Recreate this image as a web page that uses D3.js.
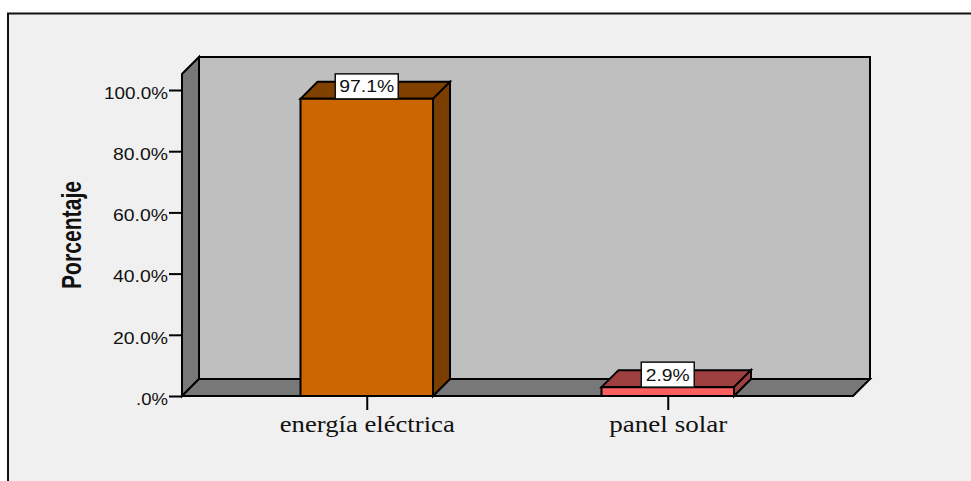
<!DOCTYPE html>
<html><head><meta charset="utf-8">
<style>html,body{margin:0;padding:0;background:#fff}svg{display:block}</style>
<script src="https://cdn.jsdelivr.net/npm/d3@7/dist/d3.min.js"></script>
</head><body><div id="c"></div>
<script>
const categories = ["energía eléctrica", "panel solar"];
const values = [97.1, 2.9];
const valueLabels = ["97.1%", "2.9%"];
const tickValues = [0, 20, 40, 60, 80, 100];
const tickLabels = [".0%", "20.0%", "40.0%", "60.0%", "80.0%", "100.0%"];
const frontColors = ["#cc6600", "#ff5f5f"];
const topColors = ["#7f4000", "#9f4040"];
const sideColors = ["#7a3d00", "#a04040"];

const W = 971, H = 481, depth = 17;
const svg = d3.select("#c").append("svg").attr("width", W).attr("height", H);
const y = d3.scaleLinear().domain([0, 100]).range([396, 90]);
const x = d3.scaleBand().domain(categories).range([300.5, 734]).paddingInner(1 - 132.5 / 301).paddingOuter(0);
const left = 182, right = 853, yTop = 74;

svg.append("rect").attr("x", 8).attr("y", 13.5).attr("width", W).attr("height", H)
  .attr("fill", "#f0f0f0").attr("stroke", "#111").attr("stroke-width", 2);

const S = "#000", SW = 2;
const poly = (pts, fill) => svg.append("polygon").attr("points", pts.map(p => p.join(",")).join(" "))
  .attr("fill", fill).attr("stroke", S).attr("stroke-width", SW).attr("stroke-linejoin", "miter");

// walls
poly([[left + depth, yTop - depth], [right + depth, yTop - depth], [right + depth, 396 - depth], [left + depth, 396 - depth]], "#bfbfbf");
poly([[left, yTop], [left + depth, yTop - depth], [left + depth, 396 - depth], [left, 396]], "#787878");
poly([[left, 396], [left + depth, 396 - depth], [right + depth, 396 - depth], [right, 396]], "#787878");

// bars
categories.forEach((c, i) => {
  const x0 = x(c), x1 = x0 + x.bandwidth(), t = y(values[i]), b = y(0);
  poly([[x0, t], [x0 + depth, t - depth], [x1 + depth, t - depth], [x1, t]], topColors[i]);
  poly([[x1, t], [x1 + depth, t - depth], [x1 + depth, b - depth], [x1, b]], sideColors[i]);
  poly([[x0, t], [x1, t], [x1, b], [x0, b]], frontColors[i]);
});

const stretched = (sel, w) => sel.attr("textLength", w).attr("lengthAdjust", "spacingAndGlyphs");

// value labels
categories.forEach((c, i) => {
  const cx = x(c) + x.bandwidth() / 2, t = y(values[i]);
  const bw = i === 0 ? 63 : 53;
  svg.append("rect").attr("x", cx - bw / 2).attr("y", t - 25).attr("width", bw).attr("height", 25)
    .attr("fill", "#fff").attr("stroke", "#111").attr("stroke-width", 1.5);
  stretched(svg.append("text").attr("x", cx).attr("y", t - 6.5).attr("text-anchor", "middle")
    .attr("font-family", "Liberation Sans").attr("font-size", 16).attr("fill", "#111").text(valueLabels[i]),
    i === 0 ? 55 : 44);
});

// y axis
const yAxis = d3.axisLeft(y).tickValues(tickValues).tickSize(13).tickPadding(1)
  .tickFormat((d, i) => tickLabels[i]);
const gy = svg.append("g").attr("transform", `translate(${left},0)`).call(yAxis);
gy.select(".domain").remove();
gy.selectAll("line").attr("stroke", S).attr("stroke-width", 2);
gy.selectAll("text").attr("font-family", "Liberation Sans").attr("font-size", 16.5).attr("fill", "#111")
  .attr("dy", "0.5em").each(function (d, i) {
    const w = [32, 55, 55, 55, 55, 64][i];
    stretched(d3.select(this), w);
  });

// x axis ticks
const xAxis = d3.axisBottom(d3.scalePoint().domain(categories).range([x(categories[0]) + x.bandwidth() / 2, x(categories[1]) + x.bandwidth() / 2]))
  .tickSize(14).tickPadding(2).tickSizeOuter(0);
const gx = svg.append("g").attr("transform", "translate(0,396)").call(xAxis);
gx.select(".domain").remove();
gx.selectAll("line").attr("stroke", S).attr("stroke-width", 2);
gx.selectAll("text").attr("font-family", "Liberation Serif").attr("font-size", 22.5).attr("fill", "#111")
  .attr("dy", "0.89em").each(function (d, i) { stretched(d3.select(this), [175, 118][i]); });

// y title
stretched(svg.append("text").attr("transform", "translate(81,235) rotate(-90)").attr("text-anchor", "middle")
  .attr("font-family", "Liberation Sans").attr("font-weight", "bold").attr("font-size", 28).attr("fill", "#111")
  .text("Porcentaje"), 108);
</script></body></html>
